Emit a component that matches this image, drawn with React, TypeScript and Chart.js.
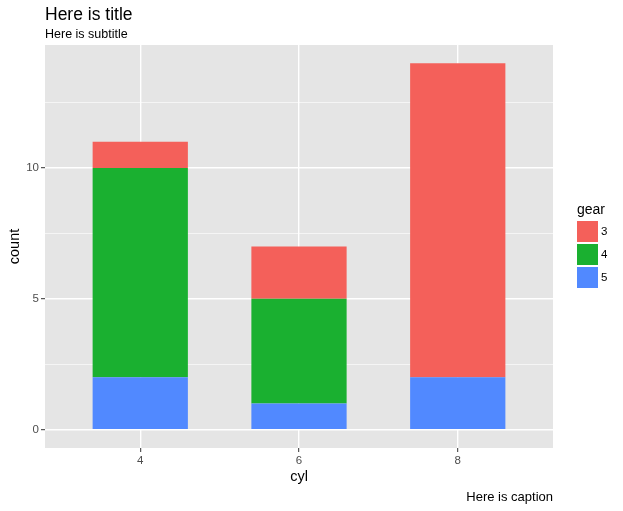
import React, { useEffect, useRef } from "react";
import { Chart, registerables } from "chart.js";
Chart.register(...registerables);

const CYL = ["4", "6", "8"];
const GEAR_LEVELS = ["3", "4", "5"];
const GEAR3 = [1, 2, 12];
const GEAR4 = [8, 4, 0];
const GEAR5 = [2, 1, 2];
const Y_MAJOR = [0, 5, 10];
const Y_MINOR = [2.5, 7.5, 12.5];
const GEAR_COLORS = ["#F4605A", "#1AB030", "#5189FF"];

const TITLE = "Here is title";
const SUBTITLE = "Here is subtitle";
const CAPTION = "Here is caption";
const X_TITLE = "cyl";
const Y_TITLE = "count";
const LEGEND_TITLE = "gear";

const FONT = '"Liberation Sans", Arial, Helvetica, sans-serif';

const decorPlugin = {
  id: "decor",
  beforeDraw(chart: any) {
    const { ctx, chartArea } = chart;
    ctx.save();
    ctx.fillStyle = "#E5E5E5";
    ctx.fillRect(chartArea.left, chartArea.top, chartArea.right - chartArea.left, chartArea.bottom - chartArea.top);
    ctx.restore();
  },
  afterDraw(chart: any) {
    const { ctx, chartArea } = chart;
    ctx.save();
    ctx.fillStyle = "#000";
    ctx.textBaseline = "alphabetic";
    ctx.textAlign = "left";
    ctx.font = `17.5px ${FONT}`;
    ctx.fillText(TITLE, chartArea.left, 20);
    ctx.font = `12.5px ${FONT}`;
    ctx.fillText(SUBTITLE, chartArea.left, 38);
    ctx.textAlign = "right";
    ctx.font = `13px ${FONT}`;
    ctx.fillText(CAPTION, chartArea.right, 501);

    // legend
    const lx = chartArea.right + 24;
    ctx.textAlign = "left";
    ctx.font = `14px ${FONT}`;
    ctx.fillText(LEGEND_TITLE, lx, 214);
    const ds = chart.data.datasets.slice().reverse();
    ds.forEach((d: any, i: number) => {
      const y = 221 + i * 23;
      ctx.fillStyle = d.backgroundColor;
      ctx.fillRect(lx, y, 21, 21);
      ctx.fillStyle = "#000";
      ctx.font = `11.5px ${FONT}`;
      ctx.textBaseline = "middle";
      ctx.fillText(d.label, lx + 24, y + 11);
      ctx.textBaseline = "alphabetic";
    });
    ctx.restore();
  },
};

export default function App() {
  const ref = useRef<HTMLCanvasElement | null>(null);
  useEffect(() => {
    document.body.style.margin = "0";
    const series = [GEAR5, GEAR4, GEAR3];
    const labels = [GEAR_LEVELS[2], GEAR_LEVELS[1], GEAR_LEVELS[0]];
    const colors = [GEAR_COLORS[2], GEAR_COLORS[1], GEAR_COLORS[0]];
    const datasets = series.map((vals, i) => ({
      label: labels[i],
      data: vals.map((v, j) => ({ x: j + 1, y: v })),
      backgroundColor: colors[i],
      borderWidth: 0,
      categoryPercentage: 1,
      barPercentage: 0.6,
    }));
    const chart = new Chart(ref.current as HTMLCanvasElement, {
      type: "bar",
      data: { datasets },
      options: {
        animation: false,
        responsive: false,
        layout: { padding: { left: 0, right: 70, top: 45, bottom: 0 } },
        plugins: { legend: { display: false }, tooltip: { enabled: false } },
        scales: {
          x: {
            type: "linear",
            stacked: true,
            offset: false,
            min: 0.4,
            max: 3.6,
            afterBuildTicks: (s: any) => {
              s.ticks = CYL.map((_, i) => ({ value: i + 1 }));
            },
            afterFit: (s: any) => {
              s.height = 63;
            },
            ticks: {
              callback: (v: any) => CYL[Math.round(v) - 1] ?? "",
              color: "#4D4D4D",
              font: { family: FONT, size: 11.5 },
              padding: 2,
              maxRotation: 0,
              autoSkip: false,
            },
            grid: {
              offset: false,
              color: "#FFFFFF",
              lineWidth: 1.4,
              tickColor: "#333333",
              tickLength: 4,
              tickWidth: 1,
            },
            border: { display: false },
            title: {
              display: true,
              text: X_TITLE,
              color: "#000",
              font: { family: FONT, size: 14.5 },
              padding: { top: 0, bottom: 25 },
            },
          },
          y: {
            type: "linear",
            stacked: true,
            min: -0.7,
            max: 14.7,
            afterBuildTicks: (s: any) => {
              s.ticks = [...Y_MAJOR, ...Y_MINOR].sort((a, b) => a - b).map((v) => ({ value: v }));
            },
            afterFit: (s: any) => {
              s.width = 45;
            },
            ticks: {
              callback: (v: any) => (Y_MAJOR.includes(v) ? String(v) : ""),
              color: "#4D4D4D",
              font: { family: FONT, size: 11.5 },
              padding: 2,
              autoSkip: false,
            },
            grid: {
              color: "#FFFFFF",
              lineWidth: (c: any) => (c.tick && Y_MAJOR.includes(c.tick.value) ? 1.4 : 0.6),
              tickColor: (c: any) => (c.tick && Y_MAJOR.includes(c.tick.value) ? "#333333" : "rgba(0,0,0,0)"),
              tickLength: 4,
              tickWidth: 1,
            },
            border: { display: false },
            title: {
              display: true,
              text: Y_TITLE,
              color: "#000",
              font: { family: FONT, size: 14.5 },
              padding: { top: 6, bottom: 0 },
            },
          },
        },
      } as any,
      plugins: [decorPlugin],
    });
    return () => chart.destroy();
  }, []);
  return <canvas ref={ref} width={623} height={511} style={{ display: "block" }} />;
}
